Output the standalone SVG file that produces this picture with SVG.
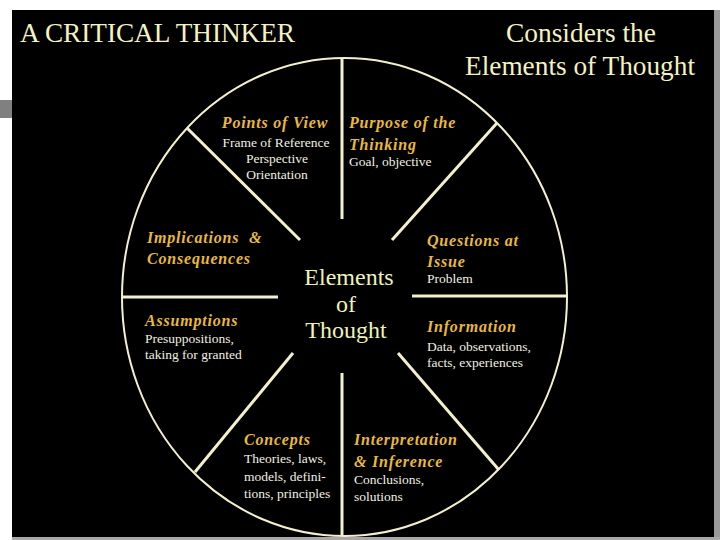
<svg xmlns="http://www.w3.org/2000/svg" width="720" height="540" viewBox="0 0 720 540">
<style>
.title{font-family:"Liberation Serif","DejaVu Serif",serif;font-size:27px;fill:#f3f2c0}
.center{font-family:"Liberation Serif","DejaVu Serif",serif;font-size:24px;fill:#eef2b8}
.head{font-family:"Liberation Serif","DejaVu Serif",serif;font-size:16px;font-weight:bold;font-style:italic;fill:#e9b93a;letter-spacing:0.8px}
.body{font-family:"Liberation Serif","DejaVu Serif",serif;font-size:13.5px;fill:#f2f0e2}
.ln{stroke:#f4f0cc;stroke-width:3;fill:none}
</style>
<rect width="720" height="540" fill="#ffffff"/>
<rect x="12" y="10" width="704" height="528" fill="#000000"/>
<rect x="714" y="10" width="6" height="530" fill="#9a9a9a"/>
<rect x="12" y="537" width="708" height="3" fill="#a8a8a8"/>
<rect x="0" y="100" width="12" height="18" fill="#808080"/>
<g id="titles">
<text class="title" x="20" y="42" textLength="275" lengthAdjust="spacingAndGlyphs">A CRITICAL THINKER</text>
<text class="title" x="506" y="42" textLength="150" lengthAdjust="spacingAndGlyphs">Considers the</text>
<text class="title" x="465" y="75" textLength="230" lengthAdjust="spacingAndGlyphs">Elements of Thought</text>
</g>
<g id="connectors">
<ellipse cx="344.5" cy="297" rx="222.5" ry="239" fill="none" stroke="#f4f0cc" stroke-width="2"/>
<line class="ln" x1="342" y1="58" x2="342" y2="219"/>
<line class="ln" x1="342" y1="373" x2="342" y2="536"/>
<line class="ln" x1="122" y1="297" x2="278" y2="297"/>
<line class="ln" x1="412" y1="296" x2="567" y2="296"/>
<line class="ln" x1="187" y1="128" x2="300" y2="240"/>
<line class="ln" x1="497" y1="123" x2="392" y2="240"/>
<line class="ln" x1="293" y1="353" x2="195" y2="472"/>
<line class="ln" x1="398" y1="353" x2="499" y2="470"/>
</g>
<g id="center">
<text class="center" x="349" y="285" text-anchor="middle">Elements</text>
<text class="center" x="346" y="312" text-anchor="middle">of</text>
<text class="center" x="346" y="338" text-anchor="middle">Thought</text>
</g>
<g id="points-of-view">
<text class="head" x="275" y="128" text-anchor="middle">Points of View</text>
<text class="body" x="276" y="147" text-anchor="middle">Frame of Reference</text>
<text class="body" x="277" y="163" text-anchor="middle">Perspective</text>
<text class="body" x="277" y="179" text-anchor="middle">Orientation</text>
</g>
<g id="purpose">
<text class="head" x="349" y="128">Purpose of the</text>
<text class="head" x="349" y="150">Thinking</text>
<text class="body" x="349" y="166">Goal, objective</text>
</g>
<g id="implications">
<text class="head" x="147" y="243" xml:space="preserve">Implications  &amp;</text>
<text class="head" x="147" y="264">Consequences</text>
</g>
<g id="questions">
<text class="head" x="427" y="246">Questions at</text>
<text class="head" x="427" y="267">Issue</text>
<text class="body" x="427" y="283">Problem</text>
</g>
<g id="assumptions">
<text class="head" x="145" y="326">Assumptions</text>
<text class="body" x="145" y="343">Presuppositions,</text>
<text class="body" x="145" y="359">taking for granted</text>
</g>
<g id="information">
<text class="head" x="427" y="332">Information</text>
<text class="body" x="427" y="351">Data, observations,</text>
<text class="body" x="427" y="367">facts, experiences</text>
</g>
<g id="concepts">
<text class="head" x="244" y="445">Concepts</text>
<text class="body" x="244" y="463">Theories, laws,</text>
<text class="body" x="244" y="481">models, defini-</text>
<text class="body" x="244" y="498">tions, principles</text>
</g>
<g id="interpretation">
<text class="head" x="354" y="445">Interpretation</text>
<text class="head" x="354" y="467">&amp; Inference</text>
<text class="body" x="354" y="484">Conclusions,</text>
<text class="body" x="354" y="501">solutions</text>
</g>
</svg>
